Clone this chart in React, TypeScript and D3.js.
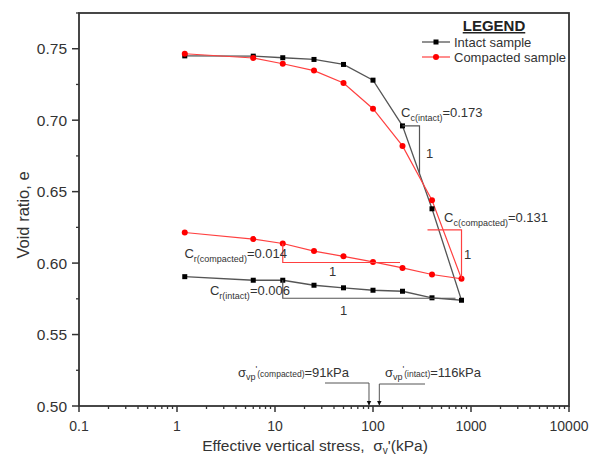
import React from "react";
import * as d3 from "d3";

const W = 598, H = 457;
const M = { left: 79, right: 569, top: 13, bottom: 406 };

const stress = [1.2, 6, 12, 25, 50, 100, 200, 400, 800, 400, 200, 100, 50, 25, 12, 6, 1.2];
const intactE = [0.745, 0.7448, 0.7437, 0.7425, 0.739, 0.728, 0.696, 0.638, 0.574, 0.5757, 0.5803, 0.581, 0.5827, 0.5845, 0.588, 0.588, 0.5905];
const compactedE = [0.7465, 0.7435, 0.7395, 0.7347, 0.726, 0.708, 0.682, 0.644, 0.589, 0.592, 0.5966, 0.6008, 0.6047, 0.6084, 0.6137, 0.6168, 0.6214];
const xTicks = [0.1, 1, 10, 100, 1000, 10000];
const yTicks = [0.5, 0.55, 0.6, 0.65, 0.7, 0.75];
const yMinor = [0.525, 0.575, 0.625, 0.675, 0.725, 0.775];

const FONT = "Liberation Sans, Arial, sans-serif";
const GREY = "#333";
const RED = "#ff0000";

export default function App() {
  const x = d3.scaleLog().domain([0.1, 10000]).range([M.left, M.right]);
  const y = d3.scaleLinear().domain([0.5, 0.775]).range([M.bottom, M.top]);
  const line = d3.line<number>().x((_, i) => x(stress[i])).y((d) => y(d));

  const xMinor: number[] = [];
  for (let p = -1; p < 4; p++) for (let k = 2; k <= 9; k++) xMinor.push(k * Math.pow(10, p));

  const pt = (s: number, e: number) => [x(s), y(e)];
  const [ci1x, ci1y] = pt(200, 0.696);
  const [ci2x, ci2y] = pt(400, 0.638);
  const ciRight = ci1x + 17;
  const ciBottomY = ci1y + ((ciRight - ci1x) / (ci2x - ci1x)) * (ci2y - ci1y);
  const [cc1x, cc1y] = pt(800, 0.589);
  const ccLeft = cc1x - 34;
  const ccTopY = cc1y - 49;
  const [cr1x, cr1y] = pt(12, 0.6137);
  const crBotY = cr1y + 19;
  const crRight = 400;
  const [ri1x, ri1y] = pt(12, 0.588);
  const riBotY = ri1y + 18;
  const riRight = x(800) - 6;

  const ax91 = x(91), ax116 = x(116);

  return (
    <svg width={W} height={H} style={{ position: "absolute", left: 0, top: 0, background: "#fff" }} fontFamily={FONT}>
      <defs>
        <marker id="arr" viewBox="0 0 10 10" refX="9" refY="5" markerWidth="5" markerHeight="6" orient="auto">
          <path d="M0,0 L10,5 L0,10 z" fill="#111" />
        </marker>
      </defs>
      <rect x={M.left} y={M.top} width={M.right - M.left} height={M.bottom - M.top} fill="none" stroke={GREY} strokeWidth={1.8} />
      {xTicks.map((t) => (
        <g key={"xt" + t}>
          <line x1={x(t)} x2={x(t)} y1={M.bottom} y2={M.bottom + 6} stroke={GREY} strokeWidth={1.5} />
          <text x={x(t)} y={M.bottom + 25} textAnchor="middle" fontSize={14} fill="#333">{t}</text>
        </g>
      ))}
      {xMinor.map((t) => (
        <line key={"xm" + t} x1={x(t)} x2={x(t)} y1={M.bottom} y2={M.bottom + 3} stroke={GREY} strokeWidth={1.3} />
      ))}
      {yTicks.map((t) => (
        <g key={"yt" + t}>
          <line x1={M.left - 7} x2={M.left} y1={y(t)} y2={y(t)} stroke={GREY} strokeWidth={1.5} />
          <text x={M.left - 12} y={y(t) + 5.5} textAnchor="end" fontSize={15.5} fill="#333">{t.toFixed(2)}</text>
        </g>
      ))}
      {yMinor.map((t) => (
        <line key={"ym" + t} x1={M.left - 3} x2={M.left} y1={y(t)} y2={y(t)} stroke={GREY} strokeWidth={1.3} />
      ))}
      <text x={0} y={0} transform={`translate(29,215) rotate(-90)`} textAnchor="middle" fontSize={16.5} fill="#333">Void ratio, e</text>
      <text x={315} y={451} textAnchor="middle" fontSize={15.5} fill="#333" style={{ whiteSpace: "pre" }}>
        {"Effective vertical stress,  σ"}<tspan fontSize={10} dy={3}>v</tspan><tspan dy={-3}>'(kPa)</tspan>
      </text>

      <path d={line(intactE) || ""} fill="none" stroke="#555" strokeWidth={1.3} />
      <path d={line(compactedE) || ""} fill="none" stroke="#ff4040" strokeWidth={1.2} />
      {intactE.map((e, i) => (
        <rect key={"ip" + i} x={x(stress[i]) - 2.5} y={y(e) - 2.5} width={5} height={5} fill="#000" />
      ))}
      {compactedE.map((e, i) => (
        <circle key={"cp" + i} cx={x(stress[i])} cy={y(e)} r={3} fill={RED} />
      ))}

      <polyline points={`${ci1x},${ci1y} ${ciRight},${ci1y} ${ciRight},${ciBottomY}`} fill="none" stroke="#555" strokeWidth={1.2} />
      <text x={426} y={158} fontSize={13} fill="#333">1</text>
      <text x={401} y={117} fontSize={13} fill="#333">C<tspan fontSize={9} dy={4}>c(intact)</tspan><tspan dy={-4}>=0.173</tspan></text>

      <polyline points={`${ccLeft},${ccTopY} ${cc1x},${ccTopY} ${cc1x},${cc1y}`} fill="none" stroke="#ff4040" strokeWidth={1.2} />
      <text x={464} y={259} fontSize={13} fill="#333">1</text>
      <text x={444} y={222} fontSize={13} fill="#333">C<tspan fontSize={9} dy={4}>c(compacted)</tspan><tspan dy={-4}>=0.131</tspan></text>

      <polyline points={`${cr1x},${cr1y} ${cr1x},${crBotY} ${crRight},${crBotY}`} fill="none" stroke="#ff4040" strokeWidth={1.2} />
      <text x={329} y={276} fontSize={13} fill="#333">1</text>
      <text x={287} y={258} textAnchor="end" fontSize={13} fill="#333">C<tspan fontSize={9} dy={4}>r(compacted)</tspan><tspan dy={-4}>=0.014</tspan></text>

      <polyline points={`${ri1x},${ri1y} ${ri1x},${riBotY} ${riRight},${riBotY}`} fill="none" stroke="#555" strokeWidth={1.2} />
      <text x={340} y={315} fontSize={13} fill="#333">1</text>
      <text x={290} y={295} textAnchor="end" fontSize={13} fill="#333">C<tspan fontSize={9} dy={4}>r(intact)</tspan><tspan dy={-4}>=0.006</tspan></text>

      <polyline points={`325,383 ${ax91},383 ${ax91},${M.bottom - 1}`} fill="none" stroke="#555" strokeWidth={1} markerEnd="url(#arr)" />
      <polyline points={`425,384 ${ax116},384 ${ax116},${M.bottom - 1}`} fill="none" stroke="#555" strokeWidth={1} markerEnd="url(#arr)" />
      <text x={238} y={377} fontSize={13} fill="#333">σ<tspan fontSize={9} dy={3}>vp</tspan><tspan fontSize={9} dy={-8}>'</tspan><tspan fontSize={8.5} dy={5}>(compacted)</tspan><tspan dy={0}>=91kPa</tspan></text>
      <text x={385} y={377} fontSize={13} fill="#333">σ<tspan fontSize={9} dy={3}>vp</tspan><tspan fontSize={9} dy={-8}>'</tspan><tspan fontSize={8.5} dy={5}>(intact)</tspan><tspan dy={0}>=116kPa</tspan></text>

      <text x={494} y={31} textAnchor="middle" fontSize={15} fontWeight="bold" fill="#222" textDecoration="underline">LEGEND</text>
      <line x1={422} x2={450} y1={42} y2={42} stroke="#555" strokeWidth={1.3} />
      <rect x={433.5} y={39.5} width={5} height={5} fill="#000" />
      <text x={454} y={47} fontSize={13} fill="#333">Intact sample</text>
      <line x1={422} x2={450} y1={57} y2={57} stroke="#ff4040" strokeWidth={1.2} />
      <circle cx={436} cy={57} r={3} fill={RED} />
      <text x={454} y={62} fontSize={13} fill="#333">Compacted sample</text>
    </svg>
  );
}
